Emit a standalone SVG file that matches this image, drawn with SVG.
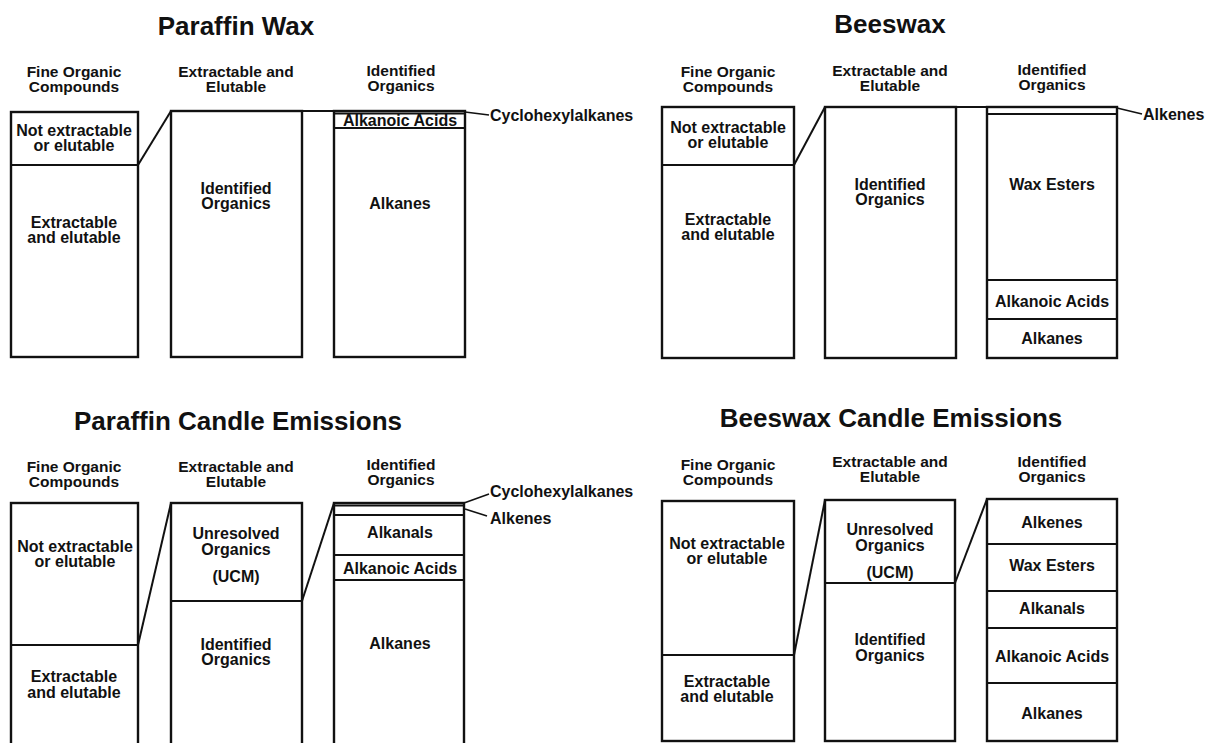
<svg xmlns="http://www.w3.org/2000/svg" width="1207" height="743" viewBox="0 0 1207 743">
<style>
text{font-family:"Liberation Sans",Arial,Helvetica,sans-serif;font-weight:bold;fill:#111;text-anchor:middle}
.title{font-size:26px}
.h{font-size:15.5px}
.l{font-size:16px}
.s{text-anchor:start}
.box{fill:none;stroke:#111;stroke-width:2.4}
.dv{stroke:#111;stroke-width:2;fill:none}
.cn{stroke:#111;stroke-width:2;fill:none}
.ld{stroke:#111;stroke-width:1.6;fill:none}
</style>
<rect width="1207" height="743" fill="#fff"/>

<!-- Paraffin Wax -->
<g id="panel-paraffin-wax">
<text class="title" x="236" y="35">Paraffin Wax</text>
<text class="h" x="74" y="77">Fine Organic</text><text class="h" x="74" y="92">Compounds</text>
<text class="h" x="236" y="77">Extractable and</text><text class="h" x="236" y="92">Elutable</text>
<text class="h" x="401" y="76">Identified</text><text class="h" x="401" y="91">Organics</text>
<g id="pw-fine">
<rect class="box" x="11" y="112" width="127" height="245"/>
<line class="dv" x1="11" y1="165" x2="138" y2="165"/>
<text class="l" x="74" y="136">Not extractable</text><text class="l" x="74" y="151">or elutable</text>
<text class="l" x="74" y="228">Extractable</text><text class="l" x="74" y="243">and elutable</text>
</g>
<g id="pw-extractable">
<rect class="box" x="171" y="111" width="131" height="246"/>
<text class="l" x="236" y="194">Identified</text><text class="l" x="236" y="209">Organics</text>
</g>
<g id="pw-identified">
<rect class="box" x="334" y="111" width="131" height="246"/>
<line class="dv" x1="334" y1="113.5" x2="465" y2="113.5" stroke-width="1.2"/>
<line class="dv" x1="334" y1="128" x2="465" y2="128"/>
<text class="l" x="400" y="126">Alkanoic Acids</text>
<text class="l" x="400" y="209">Alkanes</text>
</g>
</g>

<!-- Beeswax -->
<g id="panel-beeswax">
<text class="title" x="890" y="33">Beeswax</text>
<text class="h" x="728" y="77">Fine Organic</text><text class="h" x="728" y="92">Compounds</text>
<text class="h" x="890" y="76">Extractable and</text><text class="h" x="890" y="91">Elutable</text>
<text class="h" x="1052" y="75">Identified</text><text class="h" x="1052" y="90">Organics</text>
<g id="bw-fine">
<rect class="box" x="662" y="107" width="132" height="251"/>
<line class="dv" x1="662" y1="165" x2="794" y2="165"/>
<text class="l" x="728" y="133">Not extractable</text><text class="l" x="728" y="148">or elutable</text>
<text class="l" x="728" y="225">Extractable</text><text class="l" x="728" y="240">and elutable</text>
</g>
<g id="bw-extractable">
<rect class="box" x="825" y="107" width="131" height="251"/>
<text class="l" x="890" y="190">Identified</text><text class="l" x="890" y="205">Organics</text>
</g>
<g id="bw-identified">
<rect class="box" x="987" y="107" width="130" height="251"/>
<line class="dv" x1="987" y1="114" x2="1117" y2="114"/>
<line class="dv" x1="987" y1="280" x2="1117" y2="280"/>
<line class="dv" x1="987" y1="319" x2="1117" y2="319"/>
<text class="l" x="1052" y="190">Wax Esters</text>
<text class="l" x="1052" y="307">Alkanoic Acids</text>
<text class="l" x="1052" y="344">Alkanes</text>
</g>
</g>

<!-- Paraffin Candle Emissions -->
<g id="panel-paraffin-candle">
<text class="title" x="238" y="430">Paraffin Candle Emissions</text>
<text class="h" x="74" y="472">Fine Organic</text><text class="h" x="74" y="487">Compounds</text>
<text class="h" x="236" y="472">Extractable and</text><text class="h" x="236" y="487">Elutable</text>
<text class="h" x="401" y="470">Identified</text><text class="h" x="401" y="485">Organics</text>
<g id="pc-fine">
<rect class="box" x="11" y="503" width="127" height="260"/>
<line class="dv" x1="11" y1="645" x2="138" y2="645"/>
<text class="l" x="75" y="552">Not extractable</text><text class="l" x="75" y="567">or elutable</text>
<text class="l" x="74" y="682">Extractable</text><text class="l" x="74" y="698">and elutable</text>
</g>
<g id="pc-extractable">
<rect class="box" x="171" y="503" width="131" height="260"/>
<line class="dv" x1="171" y1="601" x2="302" y2="601"/>
<text class="l" x="236" y="539">Unresolved</text><text class="l" x="236" y="555">Organics</text><text class="l" x="236" y="582">(UCM)</text>
<text class="l" x="236" y="650">Identified</text><text class="l" x="236" y="665">Organics</text>
</g>
<g id="pc-identified">
<rect class="box" x="334" y="503" width="130" height="260"/>
<line class="dv" x1="334" y1="505.5" x2="464" y2="505.5" stroke-width="1.2"/>
<line class="dv" x1="334" y1="515" x2="464" y2="515"/>
<line class="dv" x1="334" y1="555" x2="464" y2="555"/>
<line class="dv" x1="334" y1="580" x2="464" y2="580"/>
<text class="l" x="400" y="538">Alkanals</text>
<text class="l" x="400" y="574">Alkanoic Acids</text>
<text class="l" x="400" y="649">Alkanes</text>
</g>
</g>

<!-- Beeswax Candle Emissions -->
<g id="panel-beeswax-candle">
<text class="title" x="891" y="427">Beeswax Candle Emissions</text>
<text class="h" x="728" y="470">Fine Organic</text><text class="h" x="728" y="485">Compounds</text>
<text class="h" x="890" y="467">Extractable and</text><text class="h" x="890" y="482">Elutable</text>
<text class="h" x="1052" y="467">Identified</text><text class="h" x="1052" y="482">Organics</text>
<g id="bc-fine">
<rect class="box" x="662" y="501" width="132" height="240"/>
<line class="dv" x1="662" y1="655" x2="794" y2="655"/>
<text class="l" x="727" y="549">Not extractable</text><text class="l" x="727" y="564">or elutable</text>
<text class="l" x="727" y="687">Extractable</text><text class="l" x="727" y="702">and elutable</text>
</g>
<g id="bc-extractable">
<rect class="box" x="825" y="500" width="130" height="241"/>
<line class="dv" x1="825" y1="583" x2="955" y2="583"/>
<text class="l" x="890" y="535">Unresolved</text><text class="l" x="890" y="551">Organics</text><text class="l" x="890" y="578">(UCM)</text>
<text class="l" x="890" y="645">Identified</text><text class="l" x="890" y="661">Organics</text>
</g>
<g id="bc-identified">
<rect class="box" x="987" y="499" width="130" height="242"/>
<line class="dv" x1="987" y1="544" x2="1117" y2="544"/>
<line class="dv" x1="987" y1="591" x2="1117" y2="591"/>
<line class="dv" x1="987" y1="628" x2="1117" y2="628"/>
<line class="dv" x1="987" y1="683" x2="1117" y2="683"/>
<text class="l" x="1052" y="528">Alkenes</text>
<text class="l" x="1052" y="571">Wax Esters</text>
<text class="l" x="1052" y="614">Alkanals</text>
<text class="l" x="1052" y="662">Alkanoic Acids</text>
<text class="l" x="1052" y="719">Alkanes</text>
</g>
</g>

<!-- Connectors -->
<g id="connectors">
<line class="cn" x1="138" y1="165" x2="171" y2="111"/>
<line class="cn" x1="302" y1="111" x2="334" y2="111"/>
<line class="ld" x1="465" y1="112" x2="489" y2="115"/>
<text class="l s" x="490" y="121">Cyclohexylalkanes</text>

<line class="cn" x1="794" y1="165" x2="825" y2="107"/>
<line class="cn" x1="956" y1="107" x2="987" y2="107"/>
<line class="ld" x1="1117" y1="108" x2="1142" y2="114"/>
<text class="l s" x="1143" y="120">Alkenes</text>

<line class="cn" x1="138" y1="645" x2="171" y2="503"/>
<line class="cn" x1="302" y1="601" x2="334" y2="503"/>
<line class="ld" x1="464" y1="503" x2="489" y2="494"/>
<text class="l s" x="490" y="497">Cyclohexylalkanes</text>
<line class="ld" x1="465" y1="509" x2="487" y2="516"/>
<text class="l s" x="490" y="524">Alkenes</text>

<line class="cn" x1="794" y1="655" x2="825" y2="500"/>
<line class="cn" x1="955" y1="583" x2="987" y2="499"/>
</g>
</svg>
